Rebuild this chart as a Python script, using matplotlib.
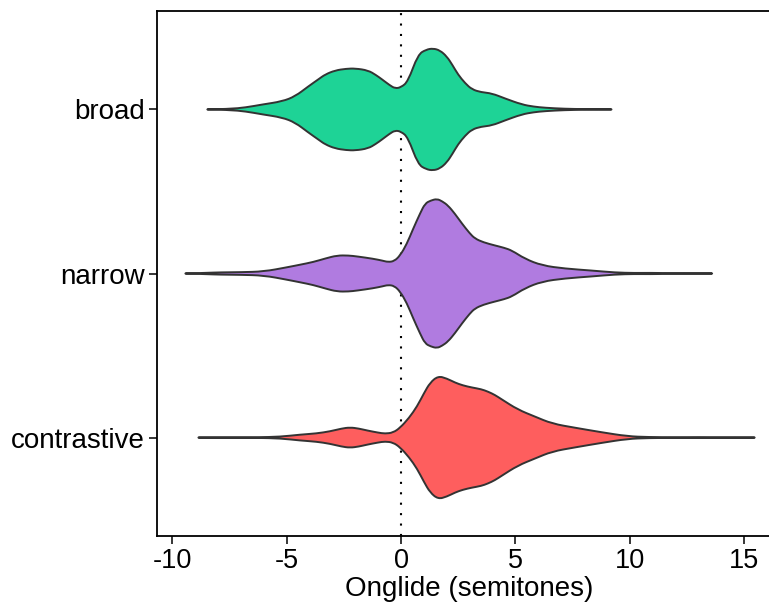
import numpy as np
import matplotlib
matplotlib.use("Agg")
import matplotlib.pyplot as plt
from matplotlib.path import Path
from matplotlib.patches import PathPatch

plt.rcParams['font.family'] = ['Liberation Sans', 'DejaVu Sans']

# categories, bottom to top
categories = ["contrastive", "narrow", "broad"]
colours = ["#fe5e5e", "#b07be0", "#1ed396"]

# violin half-width profiles (x in semitones, width in category units)
broad_x = [-8.47, -7.5, -6.8, -6.07, -5.2, -4.63, -4.06, -3.6, -3.32, -2.88, -2.4, -2.0, -1.44, -1.1,
           -0.83, -0.5, -0.26, 0.0, 0.3, 0.74, 1.1, 1.40, 1.7, 2.0, 2.25, 2.49, 2.8, 3.1, 3.5, 3.97,
           4.54, 5.28, 5.8, 6.3, 7.16, 8.0, 9.2]
broad_w = [0, 0.003, 0.012, 0.03, 0.049, 0.08, 0.14, 0.185, 0.213, 0.238, 0.248, 0.25, 0.238, 0.21,
           0.183, 0.148, 0.128, 0.135, 0.17, 0.335, 0.365, 0.372, 0.36, 0.323, 0.27, 0.213, 0.16, 0.122,
           0.105, 0.098, 0.067, 0.03, 0.017, 0.01, 0.004, 0.002, 0]

narrow_x = [-9.43, -8.5, -7.9, -7.0, -6.0, -4.98, -4.4, -3.84, -3.3, -2.8, -2.3, -1.92, -1.22, -0.8,
            -0.57, -0.3, -0.04, 0.25, 0.52, 0.83, 1.05, 1.3, 1.57, 1.8, 2.05, 2.35, 2.66, 3.0, 3.23,
            3.6, 4.1, 4.5, 4.85, 5.41, 6.16, 7.16, 8.34, 9.35, 10.2, 10.9, 11.8, 12.6, 13.6]
narrow_w = [0, 0.004, 0.007, 0.008, 0.012, 0.038, 0.054, 0.07, 0.092, 0.11, 0.11, 0.104, 0.09, 0.078,
            0.07, 0.075, 0.11, 0.18, 0.27, 0.366, 0.427, 0.445, 0.455, 0.44, 0.415, 0.365, 0.305, 0.245,
            0.213, 0.19, 0.171, 0.157, 0.14, 0.09, 0.049, 0.03, 0.018, 0.006, 0.003, 0.004, 0.002,
            0.001, 0]

contr_x = [-8.86, -7.5, -6.3, -5.28, -4.41, -3.7, -3.1, -2.6, -2.23, -1.85, -1.48, -1.0, -0.7, -0.35,
           -0.04, 0.35, 0.7, 1.0, 1.27, 1.62, 2.0, 2.36, 2.7, 3.1, 3.5, 3.8, 4.1, 4.41, 5.1, 5.85, 6.6,
           7.6, 8.78, 9.9, 10.8, 12.0, 13.0, 14.0, 15.46]
contr_w = [0, 0.001, 0.002, 0.005, 0.018, 0.025, 0.038, 0.055, 0.062, 0.055, 0.043, 0.03, 0.024, 0.03,
           0.06, 0.12, 0.19, 0.27, 0.335, 0.375, 0.36, 0.335, 0.318, 0.305, 0.295, 0.28, 0.26, 0.232,
           0.171, 0.128, 0.085, 0.06, 0.032, 0.008, 0.003, 0.002, 0.003, 0.002, 0]

x_ticks = [-10, -5, 0, 5, 10, 15]

profiles = [(contr_x, contr_w), (narrow_x, narrow_w), (broad_x, broad_w)]


def halfCurve(pts, first):
    # quadratic bezier through midpoints, passing through both end points
    verts = [pts[0]]
    codes = [Path.MOVETO if first else Path.LINETO]
    n = len(pts)
    for k in range(1, n - 1):
        end = pts[k + 1] if k == n - 2 else (pts[k] + pts[k + 1]) / 2
        verts += [pts[k], end]
        codes += [Path.CURVE3, Path.CURVE3]
    return verts, codes


def violinPath(px, pw, c):
    upper = np.column_stack([px, c + pw])
    lower = np.column_stack([px[::-1], (c - pw)[::-1]])
    v1, c1 = halfCurve(upper, True)
    v2, c2 = halfCurve(lower, False)
    verts = v1 + v2 + [upper[0]]
    codes = c1 + c2 + [Path.CLOSEPOLY]
    return Path(verts, codes)


fig = plt.figure(figsize=(7.69, 6.05), dpi=100)
ax = fig.add_axes([157 / 769, 69 / 605, 624 / 769, 525 / 605])

ax.axvline(0, color="black", lw=1.5, linestyle=(0, (1, 4)), zorder=1)

for i, (px, pw) in enumerate(profiles):
    patch = PathPatch(violinPath(np.array(px), np.array(pw), i + 1), facecolor=colours[i],
                      edgecolor="#333333", lw=1.4, zorder=2, joinstyle="round")
    ax.add_patch(patch)

ax.set_xlim(-10.67, 16.61)
ax.set_ylim(0.4, 3.6)
ax.set_xticks(x_ticks)
ax.set_xticklabels([str(t) for t in x_ticks])
ax.set_yticks([1, 2, 3])
ax.set_yticklabels(categories)
ax.tick_params(axis="x", labelsize=19.5, length=6, width=1.1, colors="black", pad=3)
ax.tick_params(axis="y", labelsize=20, length=6, width=1.1, colors="black", pad=3)
ax.set_xlabel("Onglide (semitones)", fontsize=20, labelpad=1)
for s in ax.spines.values():
    s.set_linewidth(1.3)
    s.set_color("black")

fig.savefig("out.png", dpi=100)
